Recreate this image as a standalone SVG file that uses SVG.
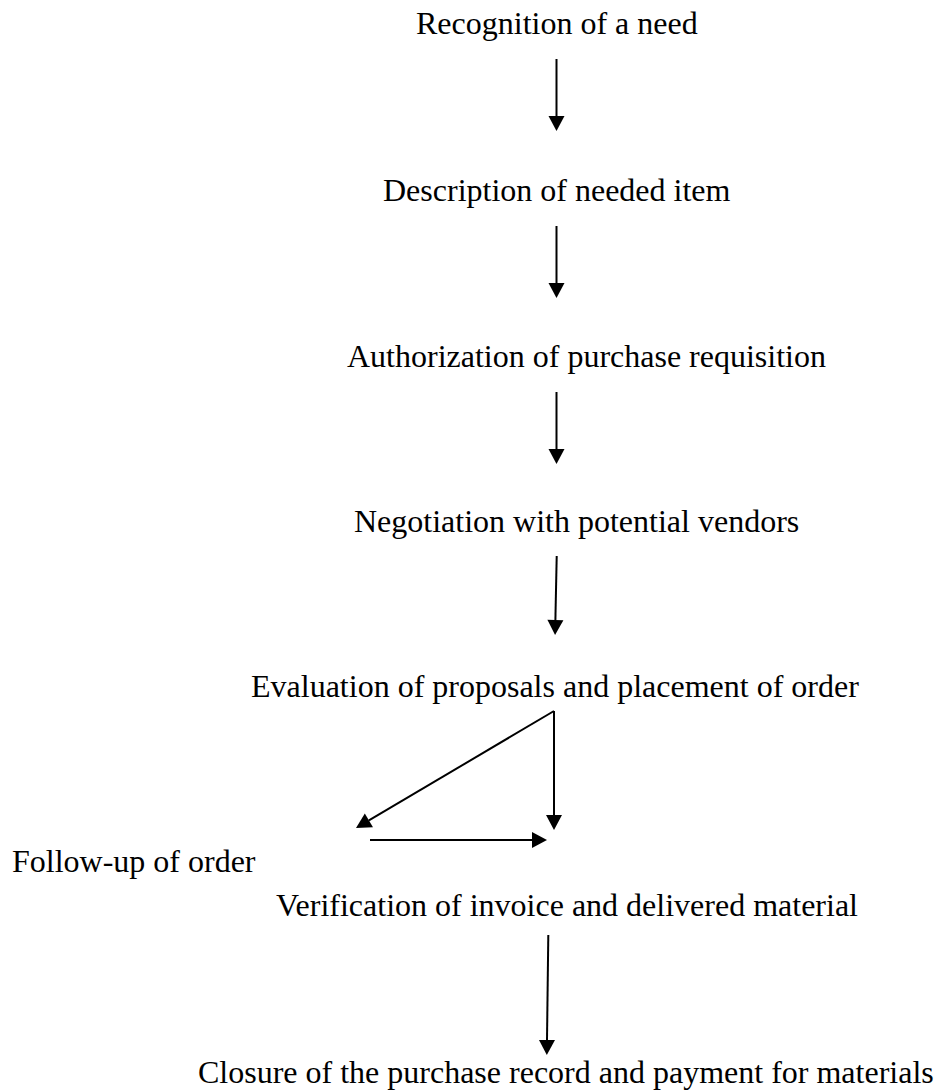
<svg xmlns="http://www.w3.org/2000/svg" width="936" height="1090" viewBox="0 0 936 1090">
  <defs>
    <style>
      .lbl { font-family: "Liberation Serif", "Times New Roman", serif; font-size: 32px; fill: #000; }
      .conn { stroke: #000; stroke-width: 2; fill: none; marker-end: url(#ah); }
    </style>
    <marker id="ah" markerUnits="userSpaceOnUse" markerWidth="16" markerHeight="16" refX="0" refY="8" orient="auto" overflow="visible">
      <path d="M0,0 L15,8 L0,16 Z" fill="#000"/>
    </marker>
  </defs>
  <rect width="936" height="1090" fill="#fff"/>
  <g id="n1"><text class="lbl" x="416" y="34">Recognition of a need</text></g>
  <g id="n2"><text class="lbl" x="383" y="201">Description of needed item</text></g>
  <g id="n3"><text class="lbl" x="347" y="367">Authorization of purchase requisition</text></g>
  <g id="n4"><text class="lbl" x="354" y="532">Negotiation with potential vendors</text></g>
  <g id="n5"><text class="lbl" x="251" y="697">Evaluation of proposals and placement of order</text></g>
  <g id="n6"><text class="lbl" x="12" y="872">Follow-up of order</text></g>
  <g id="n7"><text class="lbl" x="276" y="916">Verification of invoice and delivered material</text></g>
  <g id="n8"><text class="lbl" x="198" y="1083">Closure of the purchase record and payment for materials</text></g>
  <g id="connectors">
    <line class="conn" x1="556.5" y1="59" x2="556.5" y2="116"/>
    <line class="conn" x1="556.5" y1="226" x2="556.5" y2="283"/>
    <line class="conn" x1="556.5" y1="392" x2="556.5" y2="449"/>
    <line class="conn" x1="556.7" y1="556" x2="555.4" y2="620"/>
    <line class="conn" x1="554" y1="711" x2="368.9" y2="820.4"/>
    <line class="conn" x1="554" y1="711" x2="554" y2="815"/>
    <line class="conn" x1="370" y1="840" x2="532" y2="840"/>
    <line class="conn" x1="548.3" y1="935" x2="547" y2="1040"/>
  </g>
</svg>
